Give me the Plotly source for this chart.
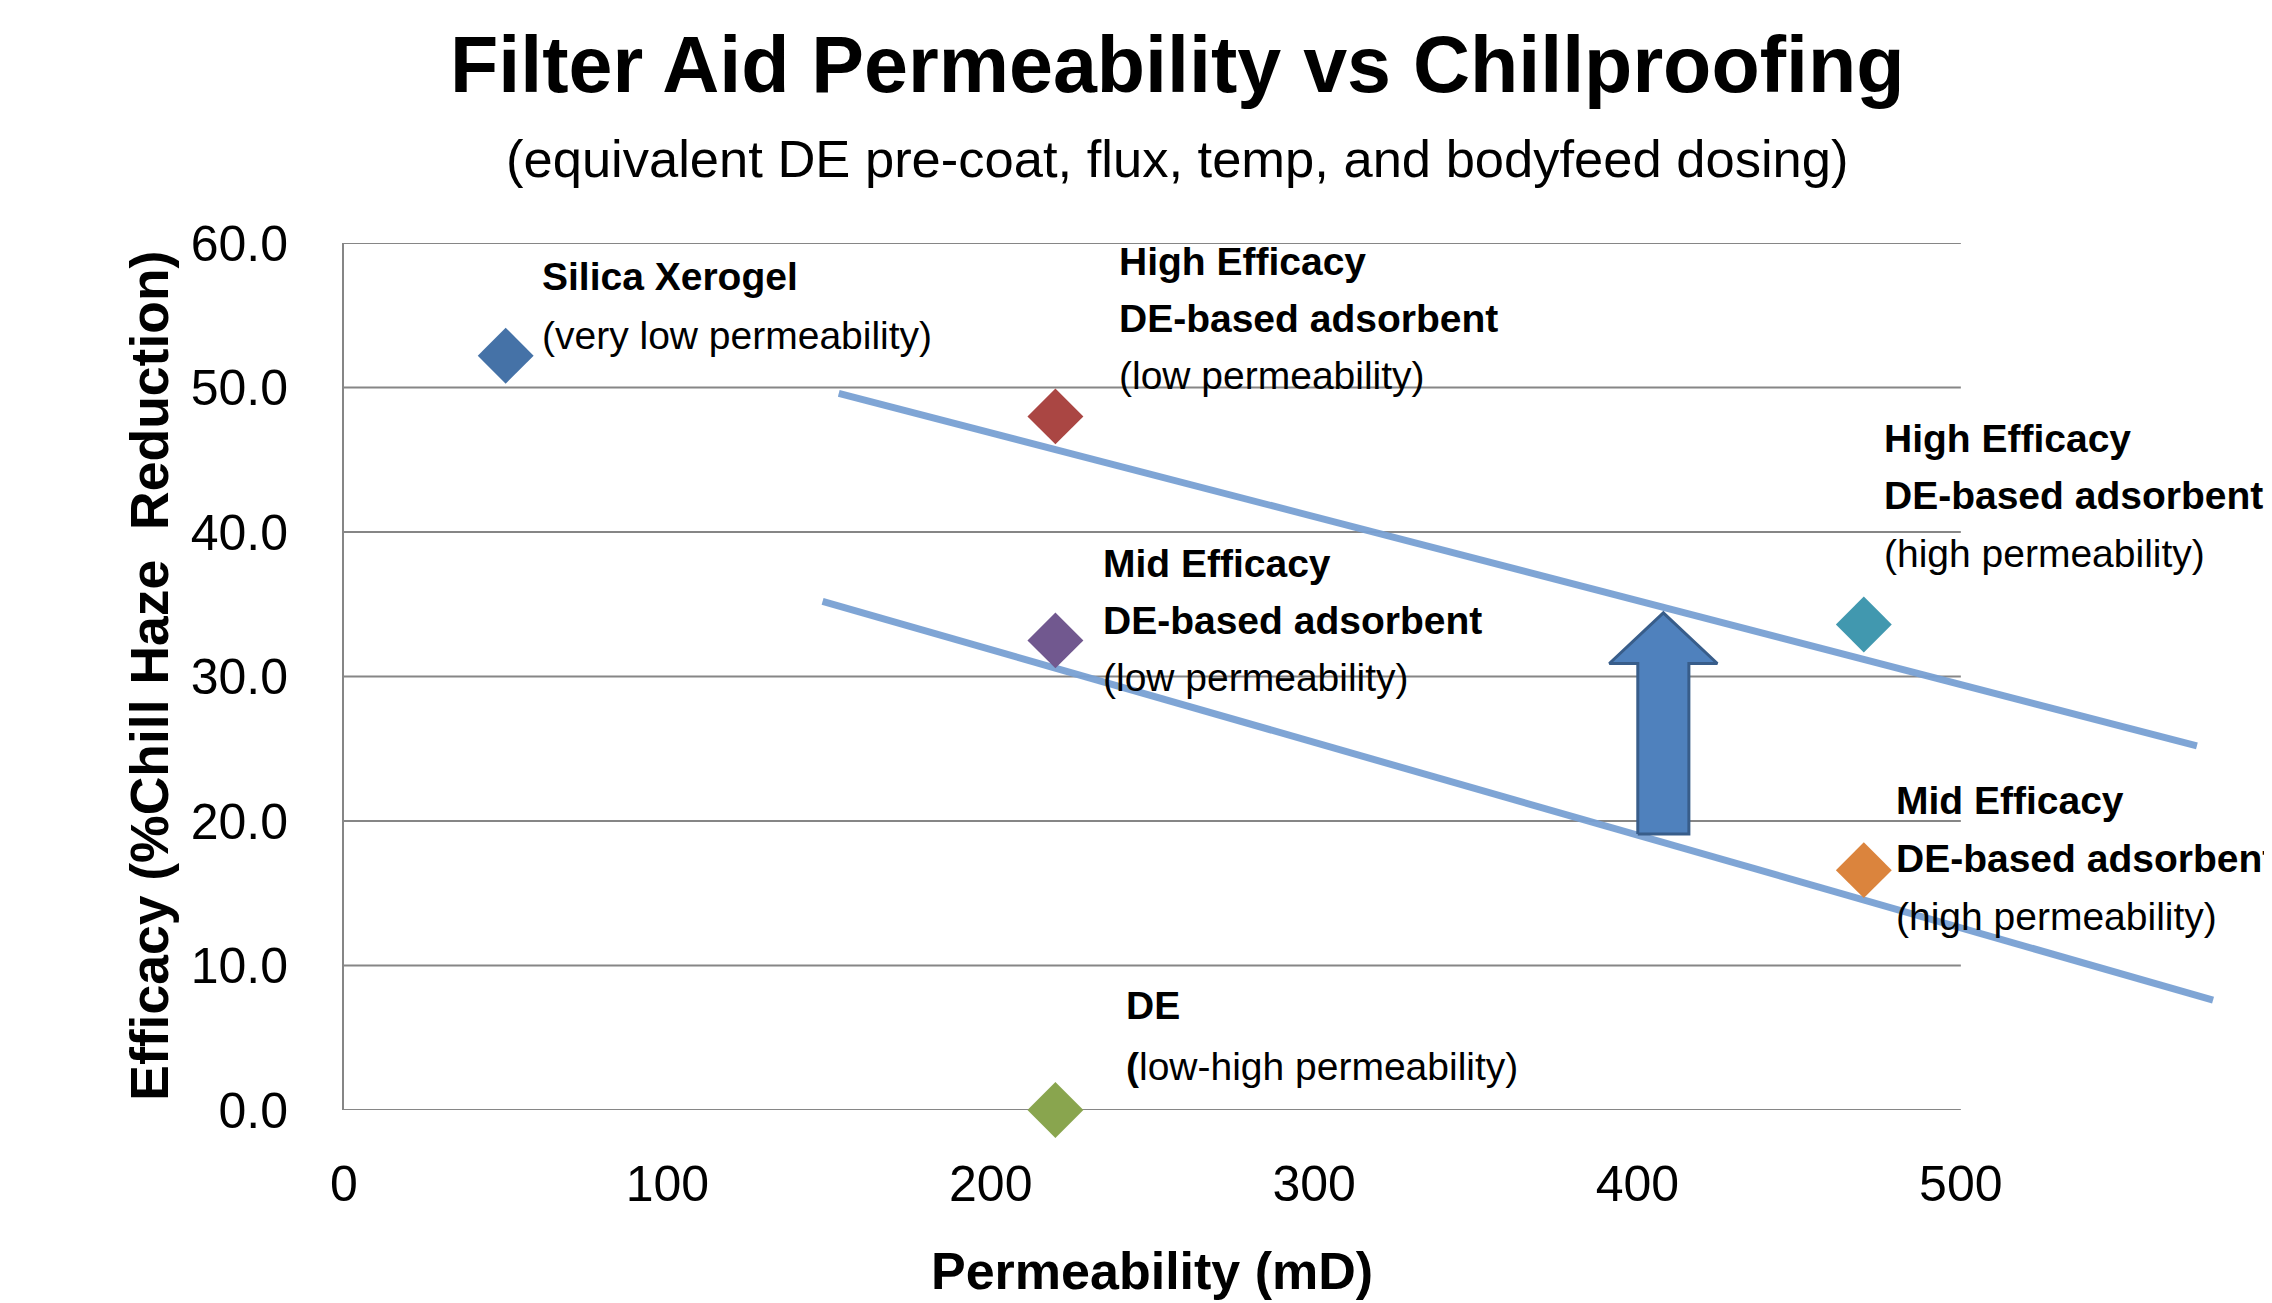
import plotly.graph_objects as go

# ---------------- data ----------------
materials = ["Silica Xerogel", "High Efficacy low perm", "Mid Efficacy low perm",
             "DE", "High Efficacy high perm", "Mid Efficacy high perm"]
permeability = [50, 220, 220, 220, 470, 470]
efficacy = [52.2, 48.0, 32.5, 0.0, 33.6, 16.6]
marker_colors = ["#4572A7", "#AA4643", "#71588F", "#89A54E", "#4198AF", "#DB843D"]

upper_trend_x = [153, 573]
upper_trend_y = [49.6, 25.2]
lower_trend_x = [148, 578]
lower_trend_y = [35.2, 7.6]

# improvement arrow (data units)
arrow_x = 408
arrow_from = 19.1
arrow_to = 34.4
arrow_head_base = 30.9
arrow_shaft_half = 7.9
arrow_head_half = 16.7

y_ticks = [0, 10, 20, 30, 40, 50, 60]
x_ticks = [0, 100, 200, 300, 400, 500]

label_bold_lines = [["Silica Xerogel"],
                    ["High Efficacy", "DE-based adsorbent"],
                    ["Mid Efficacy", "DE-based adsorbent"],
                    ["DE"],
                    ["High Efficacy", "DE-based adsorbent"],
                    ["Mid Efficacy", "DE-based adsorbent"]]
label_notes = ["(very low permeability)", "(low permeability)", "(low permeability)",
               "<b>(</b>low-high permeability)", "(high permeability)", "(high permeability)"]
label_x = [60.5, 238.9, 234.2, 241.3, 475.7, 479.4]
label_top_y = [57.7, 58.7, 37.8, 7.2, 46.5, 21.4]
label_step = [4.1, 3.95, 3.95, 4.2, 4.0, 4.0]

title_text = "Filter Aid Permeability vs Chillproofing"
subtitle_text = "(equivalent DE pre-coat, flux, temp, and bodyfeed dosing)"
x_title = "Permeability (mD)"
y_title = "Efficacy (%Chill Haze\u00a0 Reduction)"

FONT = "Liberation Sans, Arial, sans-serif"
GRID = "#868686"

fig = go.Figure()

# trend lines
for tx, ty in [(upper_trend_x, upper_trend_y), (lower_trend_x, lower_trend_y)]:
    fig.add_trace(go.Scatter(x=tx, y=ty, mode="lines",
                             line=dict(color="rgba(120,160,211,0.95)", width=7),
                             hoverinfo="skip", showlegend=False))

# arrow polygon
ax_poly = [arrow_x - arrow_shaft_half, arrow_x + arrow_shaft_half, arrow_x + arrow_shaft_half,
           arrow_x + arrow_head_half, arrow_x, arrow_x - arrow_head_half,
           arrow_x - arrow_shaft_half, arrow_x - arrow_shaft_half]
ay_poly = [arrow_from, arrow_from, arrow_head_base, arrow_head_base, arrow_to,
           arrow_head_base, arrow_head_base, arrow_from]
fig.add_trace(go.Scatter(x=ax_poly, y=ay_poly, mode="lines", fill="toself",
                         fillcolor="#4F81BD", line=dict(color="#385D8A", width=3),
                         hoverinfo="skip", showlegend=False))

# data points
fig.add_trace(go.Scatter(x=permeability, y=efficacy, mode="markers", text=materials,
                         marker=dict(symbol="diamond", size=43, color=marker_colors,
                                     line=dict(width=0)),
                         cliponaxis=False, showlegend=False))

# gridlines (only across 0..500)
for yv in y_ticks:
    fig.add_shape(type="line", xref="x", yref="y", x0=0, x1=500, y0=yv, y1=yv,
                  line=dict(color=GRID, width=2), layer="below")

annotations = []
for bold_lines, note, lx, ty, step in zip(label_bold_lines, label_notes, label_x, label_top_y, label_step):
    lines = [f"<b>{b}</b>" for b in bold_lines] + [note]
    for i, line in enumerate(lines):
        annotations.append(dict(xref="x", yref="y", x=lx, y=ty - i * step,
                                xanchor="left", yanchor="middle",
                                text=line, showarrow=False, align="left",
                                font=dict(family=FONT, size=39, color="black")))

# page layout (page has an 8px body margin)
OFF = 8
W, H = 2272, 1303
plot_left, plot_right, plot_top, plot_bottom = 343.5, 2225.7, 242.5, 1110
L = plot_left - OFF
R = W - (plot_right - OFF)
T = plot_top - OFF
B = H - (plot_bottom - OFF)
pw = plot_right - plot_left
ph = plot_bottom - plot_top

def px(xpix):
    return (xpix - plot_left) / pw

def py(ypix):
    return (plot_bottom - ypix) / ph

annotations += [
    dict(xref="paper", yref="paper", x=px(1177), y=py(64), xanchor="center", yanchor="middle",
         text=f"<b>{title_text}</b>", showarrow=False,
         font=dict(family=FONT, size=79, color="black")),
    dict(xref="paper", yref="paper", x=px(1177), y=py(158), xanchor="center", yanchor="middle",
         text=subtitle_text, showarrow=False,
         font=dict(family=FONT, size=52.5, color="black")),
    dict(xref="paper", yref="paper", x=px(1152), y=py(1271), xanchor="center", yanchor="middle",
         text=f"<b>{x_title}</b>", showarrow=False,
         font=dict(family=FONT, size=52, color="black")),
    dict(xref="paper", yref="paper", x=px(149), y=py(676), xanchor="center", yanchor="middle",
         text=f"<b>{y_title}</b>", showarrow=False, textangle=-90,
         font=dict(family=FONT, size=53.5, color="black")),
]

fig.update_layout(
    width=W, height=H, autosize=False,
    margin=dict(l=L, r=R, t=T, b=B, pad=0),
    paper_bgcolor="white", plot_bgcolor="white",
    showlegend=False,
    annotations=annotations,
    xaxis=dict(range=[0, 582], tickvals=x_ticks, showgrid=False, zeroline=False, showline=False,
               ticks="", ticklabelstandoff=40,
               tickfont=dict(family=FONT, size=50, color="black")),
    yaxis=dict(range=[0, 60], tickvals=y_ticks, tickformat=".1f", showgrid=False, zeroline=False,
               showline=True, linecolor=GRID, linewidth=2, ticks="", ticklabelstandoff=44,
               tickfont=dict(family=FONT, size=50, color="black")),
)

fig.write_html("out.html")
